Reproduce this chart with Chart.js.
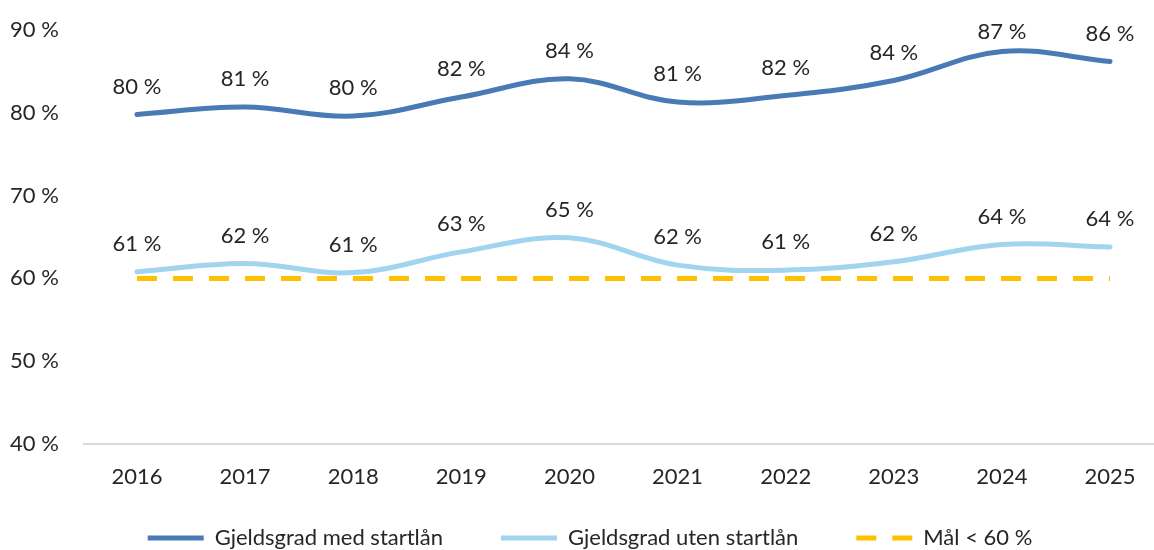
<!DOCTYPE html>
<html>
<head>
<meta charset="utf-8">
<style>
  html, body { margin: 0; padding: 0; background: #ffffff; }
  #wrap { width: 1154px; height: 550px; }
</style>
<script src="https://cdn.jsdelivr.net/npm/chart.js@4/dist/chart.umd.min.js"></script>
</head>
<body>
<div id="wrap"><canvas id="c" width="1154" height="550"></canvas></div>
<script>
const years = ['2016','2017','2018','2019','2020','2021','2022','2023','2024','2025'];
const medStartlan = [79.8, 80.7, 79.6, 81.9, 84.1, 81.3, 82.1, 83.9, 87.4, 86.2];
const utenStartlan = [60.8, 61.8, 60.7, 63.2, 64.9, 61.6, 61.0, 62.0, 64.1, 63.8];
const maal = [60, 60, 60, 60, 60, 60, 60, 60, 60, 60];
const seriesNames = ['Gjeldsgrad med startlån', 'Gjeldsgrad uten startlån', 'Mål < 60 %'];
const yTicks = [40, 50, 60, 70, 80, 90];

const FONT = 'Lato';
const FS = 22;
const TEXT = '#262626';
const LEGEND_PAD = 58;
const LEGEND_TEXT_Y = 538;
const LEGEND_SHIFT_X = 8;

const toPoints = arr => arr.map((v, i) => ({ x: i, y: v }));

const dataLabels = {
  id: 'dataLabels',
  afterDatasetsDraw(chart) {
    const ctx = chart.ctx;
    ctx.save();
    ctx.font = FS + 'px ' + FONT;
    ctx.fillStyle = TEXT;
    ctx.textAlign = 'center';
    ctx.textBaseline = 'middle';
    [0, 1].forEach(di => {
      const meta = chart.getDatasetMeta(di);
      const ds = chart.data.datasets[di];
      meta.data.forEach((el, i) => {
        const y = Math.max(el.y - 28, chart.chartArea.top + 2);
        ctx.fillText(Math.round(ds.data[i].y) + ' %', el.x, y);
      });
    });
    ctx.restore();
  }
};

const legendPlace = {
  id: 'legendPlace',
  beforeLayout(chart) {
    const lg = chart.legend;
    if (lg && !lg._hPatched) {
      const orig = lg.fit.bind(lg);
      lg.fit = function () { orig(); this.height = 60; };
      lg._hPatched = true;
    }
  },
  afterLayout(chart) {
    const lg = chart.legend;
    if (lg) {
      lg.top = LEGEND_TEXT_Y - FS / 2 - LEGEND_PAD;
      lg.left += LEGEND_SHIFT_X;
      lg.right += LEGEND_SHIFT_X;
    }
  }
};

new Chart(document.getElementById('c'), {
  type: 'line',
  data: {
    datasets: [
      { label: seriesNames[0], data: toPoints(medStartlan), borderColor: '#4a7ab5', backgroundColor: '#4a7ab5', borderWidth: 5, pointRadius: 0, tension: 0.38, borderCapStyle: 'round' },
      { label: seriesNames[1], data: toPoints(utenStartlan), borderColor: '#a0d4ef', backgroundColor: '#a0d4ef', borderWidth: 5, pointRadius: 0, tension: 0.38, borderCapStyle: 'round' },
      { label: seriesNames[2], data: toPoints(maal), borderColor: '#ffc000', backgroundColor: '#ffc000', borderWidth: 5, borderDash: [20, 16], pointRadius: 0, tension: 0 }
    ]
  },
  options: {
    responsive: false,
    animation: false,
    devicePixelRatio: 1,
    layout: { padding: { left: 10, top: 30, right: 0, bottom: 0 } },
    plugins: {
      tooltip: { enabled: false },
      legend: {
        position: 'bottom',
        labels: {
          usePointStyle: true,
          pointStyle: 'line',
          pointStyleWidth: 56,
          padding: LEGEND_PAD,
          color: TEXT,
          font: { family: FONT, size: FS },
          generateLabels: chart => {
            const items = Chart.defaults.plugins.legend.labels.generateLabels(chart);
            return items.map(it => {
              const ds = chart.data.datasets[it.datasetIndex];
              it.strokeStyle = ds.borderColor;
              it.fillStyle = ds.borderColor;
              it.lineWidth = ds.borderWidth;
              it.lineDash = ds.borderDash || [];
              it.lineDashOffset = 0;
              return it;
            });
          }
        }
      }
    },
    scales: {
      x: {
        type: 'linear',
        min: -0.49, max: 9.407,
        afterBuildTicks: s => { s.ticks = years.map((_, i) => ({ value: i })); },
        afterFit: s => { s.height = 46; },
        grid: { display: false },
        border: { display: true, color: '#d9d9d9', width: 2 },
        ticks: { color: TEXT, font: { family: FONT, size: FS }, padding: 12, maxRotation: 0, autoSkip: false,
                 callback: v => years[v] }
      },
      y: {
        min: 40, max: 90,
        afterBuildTicks: s => { s.ticks = yTicks.map(v => ({ value: v })); },
        afterFit: s => { s.width = 74; },
        grid: { display: false },
        border: { display: false },
        ticks: { color: TEXT, font: { family: FONT, size: FS }, crossAlign: 'far', callback: v => v + ' %' }
      }
    }
  },
  plugins: [dataLabels, legendPlace]
});
</script>
</body>
</html>
